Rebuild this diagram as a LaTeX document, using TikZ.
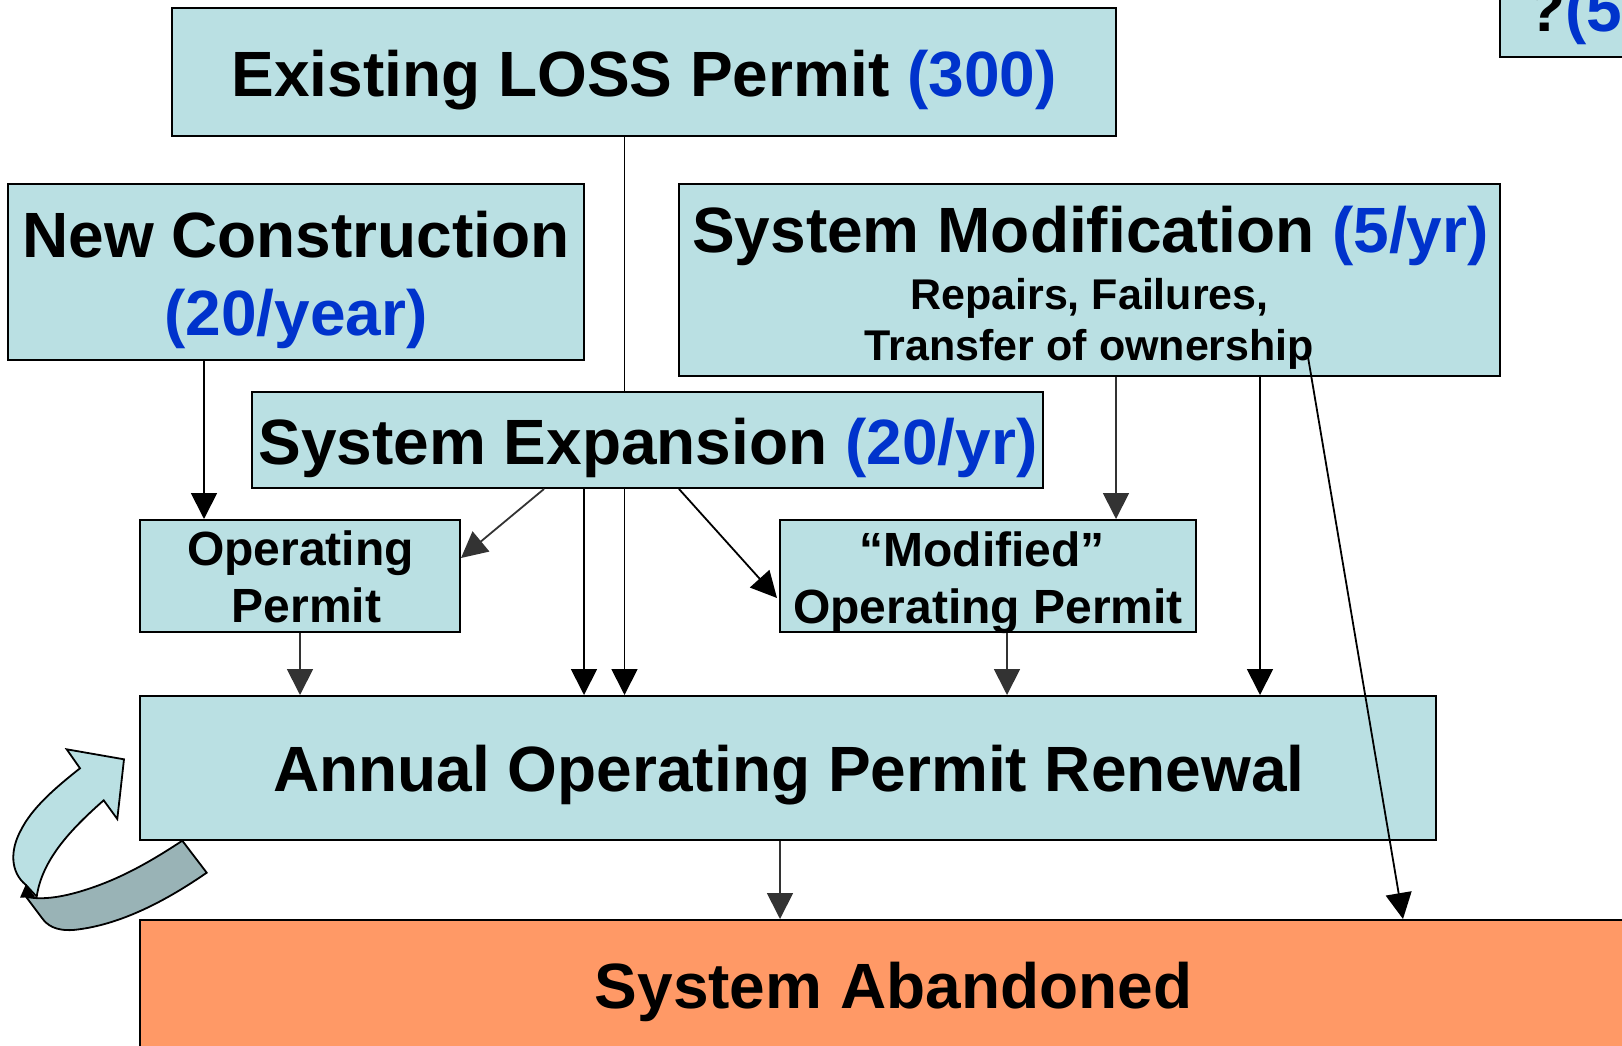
\documentclass[tikz,border=0pt]{standalone}
\usepackage{fontspec}
\setmainfont{Liberation Sans}
\usetikzlibrary{arrows.meta,calc}
\definecolor{boxfill}{HTML}{BAE0E3}
\definecolor{boxblue}{HTML}{0033CC}
\definecolor{boxorange}{HTML}{FF9966}
\definecolor{boxgrey}{HTML}{99B3B6}
\definecolor{darkarrow}{HTML}{333333}
\tikzset{
  pbox/.style={draw=black,line width=2pt,fill=boxfill,inner sep=0pt},
  big/.style={inner sep=0pt,align=center,font=\fontsize{64}{78}\selectfont\bfseries},
  mid/.style={inner sep=0pt,align=center,font=\fontsize{48}{57}\selectfont\bfseries},
  small/.style={inner sep=0pt,align=center,font=\fontsize{43}{51}\selectfont\bfseries},
  blackarr/.style={draw=black,line width=1.8pt,-{Triangle[length=26pt,width=26pt]}},
  greyarr/.style={draw=darkarrow,line width=1.8pt,-{Triangle[length=26pt,width=26pt]}},
  curveline/.style={draw=black,line width=1.8pt,line join=miter}
}
\newcommand{\bl}[1]{\textcolor{boxblue}{#1}}
\begin{document}
\begin{tikzpicture}[x=1pt,y=-1pt]
\useasboundingbox (0,0) rectangle (1622,1046);
\clip (0,0) rectangle (1622,1046);
% boxes
\node[pbox,minimum width=944pt,minimum height=128pt] (exist) at (644,72) {};
\node[big] (existt) at (644,80) {Existing LOSS Permit \bl{(300)}};
\node[pbox,minimum width=1296pt,minimum height=144pt] (annual) at (788,768) {};
\node[big] (annualt) at (789,775.5) {Annual Operating Permit Renewal};
\draw[blackarr] (624.5,0 |- exist.south) -- (624.5,0 |- annual.north);
\node[pbox,minimum width=576pt,minimum height=176pt] (newc) at (296,272) {};
\node[big] (newct) at (296,279.5) {New Construction\\\bl{(20/year)}};
\node[pbox,minimum width=821pt,minimum height=192pt] (smod) at (1089.5,280) {};
\node[big] (smodt) at (1090.5,236) {System Modification \bl{(5/yr)}};
\node[small] (smods) at (1089.5,324) {Repairs, Failures,\\Transfer of ownership};
\node[pbox,minimum width=791pt,minimum height=96pt] (sexp) at (647.5,440) {};
\node[big] (sexpt) at (648,447.5) {System Expansion \bl{(20/yr)}};
\node[pbox,minimum width=320pt,minimum height=112pt] (oper) at (300,576) {};
\node[mid] (opert) at (300.5,577) {Operating\\\hspace*{12pt}Permit};
\node[pbox,minimum width=416pt,minimum height=112pt] (modi) at (988,576) {};
\node[mid] (modit) at (988,582.5) {“Modified”\hspace*{12pt}\\Operating Permit};
\node[pbox,fill=boxorange,minimum width=1506pt,minimum height=144pt] (aband) at (893,992) {};
\node[big] (abandt) at (893.5,991.5) {System Abandoned};
\node[pbox,minimum width=300pt,minimum height=157pt] (topr) at (1650,-21.5) {};
\node[font=\fontsize{64}{78}\selectfont\bfseries,inner sep=0pt,anchor=base west] (toprt) at (1526,32) {?\bl{(5}};
% connectors
\draw[blackarr] (204,0 |- newc.south) -- (204,0 |- oper.north);
\draw[greyarr] ($(sexp.south west)+(293,0)$) -- ($(oper.north east)+(0,39)$);
\draw[blackarr] (584,0 |- sexp.south) -- (584,0 |- annual.north);
\draw[blackarr] ($(sexp.south west)+(428,0)$) -- ($(modi.north west)+(-2,79)$);
\draw[greyarr] (1116,0 |- smod.south) -- (1116,0 |- modi.north);
\draw[blackarr] (1260,0 |- smod.south) -- (1260,0 |- annual.north);
\coordinate (slantstart) at (1308,357);
\draw[blackarr] (slantstart) -- (1403,0 |- aband.north);
\draw[greyarr] (300,0 |- oper.south) -- (300,0 |- annual.north);
\draw[greyarr] (1007,0 |- modi.south) -- (1007,0 |- annual.north);
\draw[greyarr] (780,0 |- annual.south) -- (780,0 |- aband.north);
% curved arrow
\draw[curveline,fill=boxfill] (66.7,749.3) -- (124,759.3) -- (117.3,819) -- (103.7,800.3)
  .. controls (70,830) and (42,860) .. (36.7,896.7)
  -- (26,885)
  .. controls (10,872) and (10,850) .. (21,830)
  .. controls (32,808) and (55,788) .. (80,768.3) -- cycle;
\draw[curveline,fill=boxgrey] (182.3,840.7) -- (206.7,872.7)
  .. controls (160,905) and (115,926) .. (73,930)
  .. controls (55,931) and (47,925) .. (42,918)
  -- (26,896.7)
  .. controls (40,900) and (60,898) .. (85,890)
  .. controls (120,879) and (150,862) .. (182.3,840.7) -- cycle;
\fill[black] (20,897.7) -- (26,884) -- (35,897) -- cycle;
\end{tikzpicture}
\end{document}
